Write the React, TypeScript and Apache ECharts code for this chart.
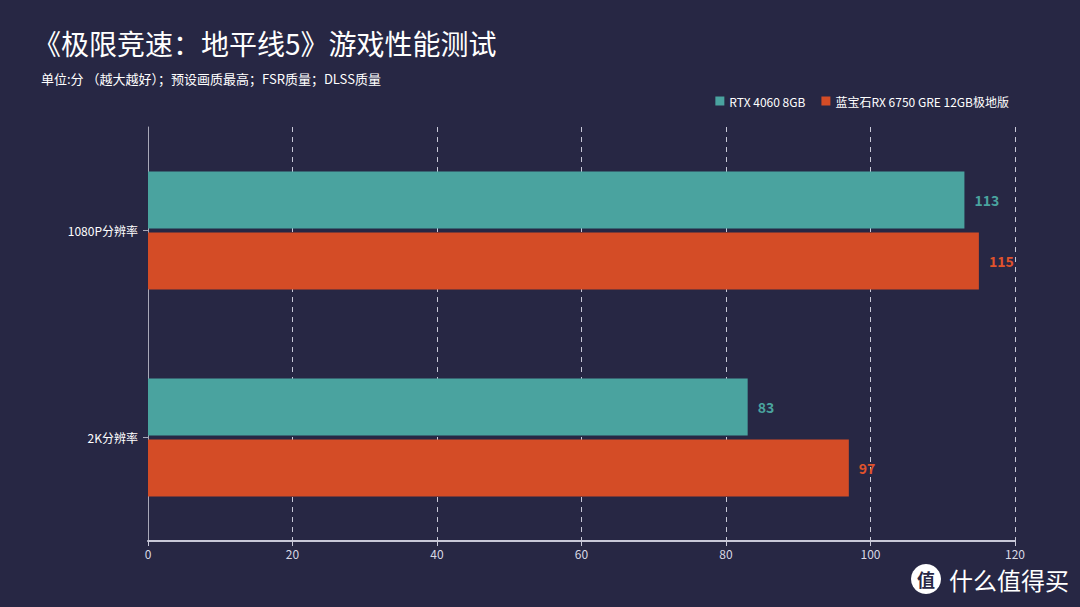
import React, { useEffect, useRef } from "react";
import * as echarts from "echarts";

const categories = ["1080P分辨率", "2K分辨率"];
const seriesNames = ["RTX 4060 8GB", "蓝宝石RX 6750 GRE 12GB极地版"];
const rtxValues = [113, 83];
const rxValues = [115, 97];
const xTicks = { min: 0, max: 120, interval: 20 };

const FONT = "'Noto Sans CJK SC', 'Noto Sans', sans-serif";

export default function App() {
  const ref = useRef<HTMLDivElement>(null);
  useEffect(() => {
    if (!ref.current) return;
    const chart = echarts.init(ref.current, undefined, { renderer: "svg" });
    chart.setOption({
      animation: false,
      backgroundColor: "#272744",
      textStyle: { fontFamily: FONT },
      title: [
        {
          text: "《极限竞速：地平线5》游戏性能测试",
          left: 28,
          top: 24,
          textStyle: { color: "#ffffff", fontSize: 28, fontWeight: "normal", fontFamily: FONT },
        },
        {
          text: "单位:分 （越大越好）；预设画质最高；FSR质量；DLSS质量",
          left: 36,
          top: 67,
          textStyle: { color: "#ffffff", fontSize: 13, fontWeight: "normal", fontFamily: FONT },
        },
      ],
      legend: {
        right: 66,
        top: 90,
        itemWidth: 9,
        itemHeight: 9,
        itemGap: 16,
        icon: "rect",
        textStyle: { color: "#ffffff", fontSize: 12, fontFamily: FONT },
        data: seriesNames,
      },
      grid: { left: 148, right: 65, top: 127, bottom: 66, containLabel: false },
      xAxis: {
        type: "value",
        min: xTicks.min,
        max: xTicks.max,
        interval: xTicks.interval,
        axisLine: { show: true, lineStyle: { color: "#c8c8d8", width: 2 } },
        axisTick: { show: true, length: 5, lineStyle: { color: "#c8c8d8" } },
        axisLabel: { color: "#d8d8e4", fontSize: 12, margin: 6, fontFamily: FONT },
        splitLine: { show: true, lineStyle: { color: "#c8c8d8", type: [5, 5], width: 1 } },
      },
      yAxis: {
        type: "category",
        inverse: true,
        data: categories,
        axisLine: { show: true, lineStyle: { color: "#a8a8b8", width: 1 } },
        axisTick: { show: true, alignWithLabel: true, length: 5, lineStyle: { color: "#a8a8b8" } },
        axisLabel: { color: "#ffffff", fontSize: 12, margin: 10, fontFamily: FONT },
      },
      series: [
        {
          name: seriesNames[0],
          type: "bar",
          data: rtxValues,
          barWidth: 57,
          barGap: "7%",
          itemStyle: { color: "#4aa39f" },
          label: {
            show: true,
            position: "right",
            distance: 10,
            color: "#4aa39f",
            fontSize: 14,
            fontWeight: "bold",
            fontFamily: FONT,
          },
        },
        {
          name: seriesNames[1],
          type: "bar",
          data: rxValues,
          barWidth: 57,
          barGap: "7%",
          itemStyle: { color: "#d44c26" },
          label: {
            show: true,
            position: "right",
            distance: 10,
            color: "#e0532c",
            fontSize: 14,
            fontWeight: "bold",
            fontFamily: FONT,
          },
        },
      ],
      graphic: [
        {
          type: "circle",
          shape: { cx: 926, cy: 579, r: 15 },
          style: { fill: "#ffffff" },
        },
        {
          type: "text",
          x: 926,
          y: 579,
          style: {
            text: "值",
            fill: "#272744",
            font: `bold 18px ${FONT}`,
            align: "center",
            verticalAlign: "middle",
          },
        },
        {
          type: "text",
          x: 949,
          y: 579,
          style: {
            text: "什么值得买",
            fill: "#ffffff",
            font: `24px ${FONT}`,
            align: "left",
            verticalAlign: "middle",
          },
        },
      ],
    });
    return () => chart.dispose();
  }, []);
  return <div ref={ref} style={{ width: 1080, height: 607, position: "absolute", left: 0, top: 0 }} />;
}
